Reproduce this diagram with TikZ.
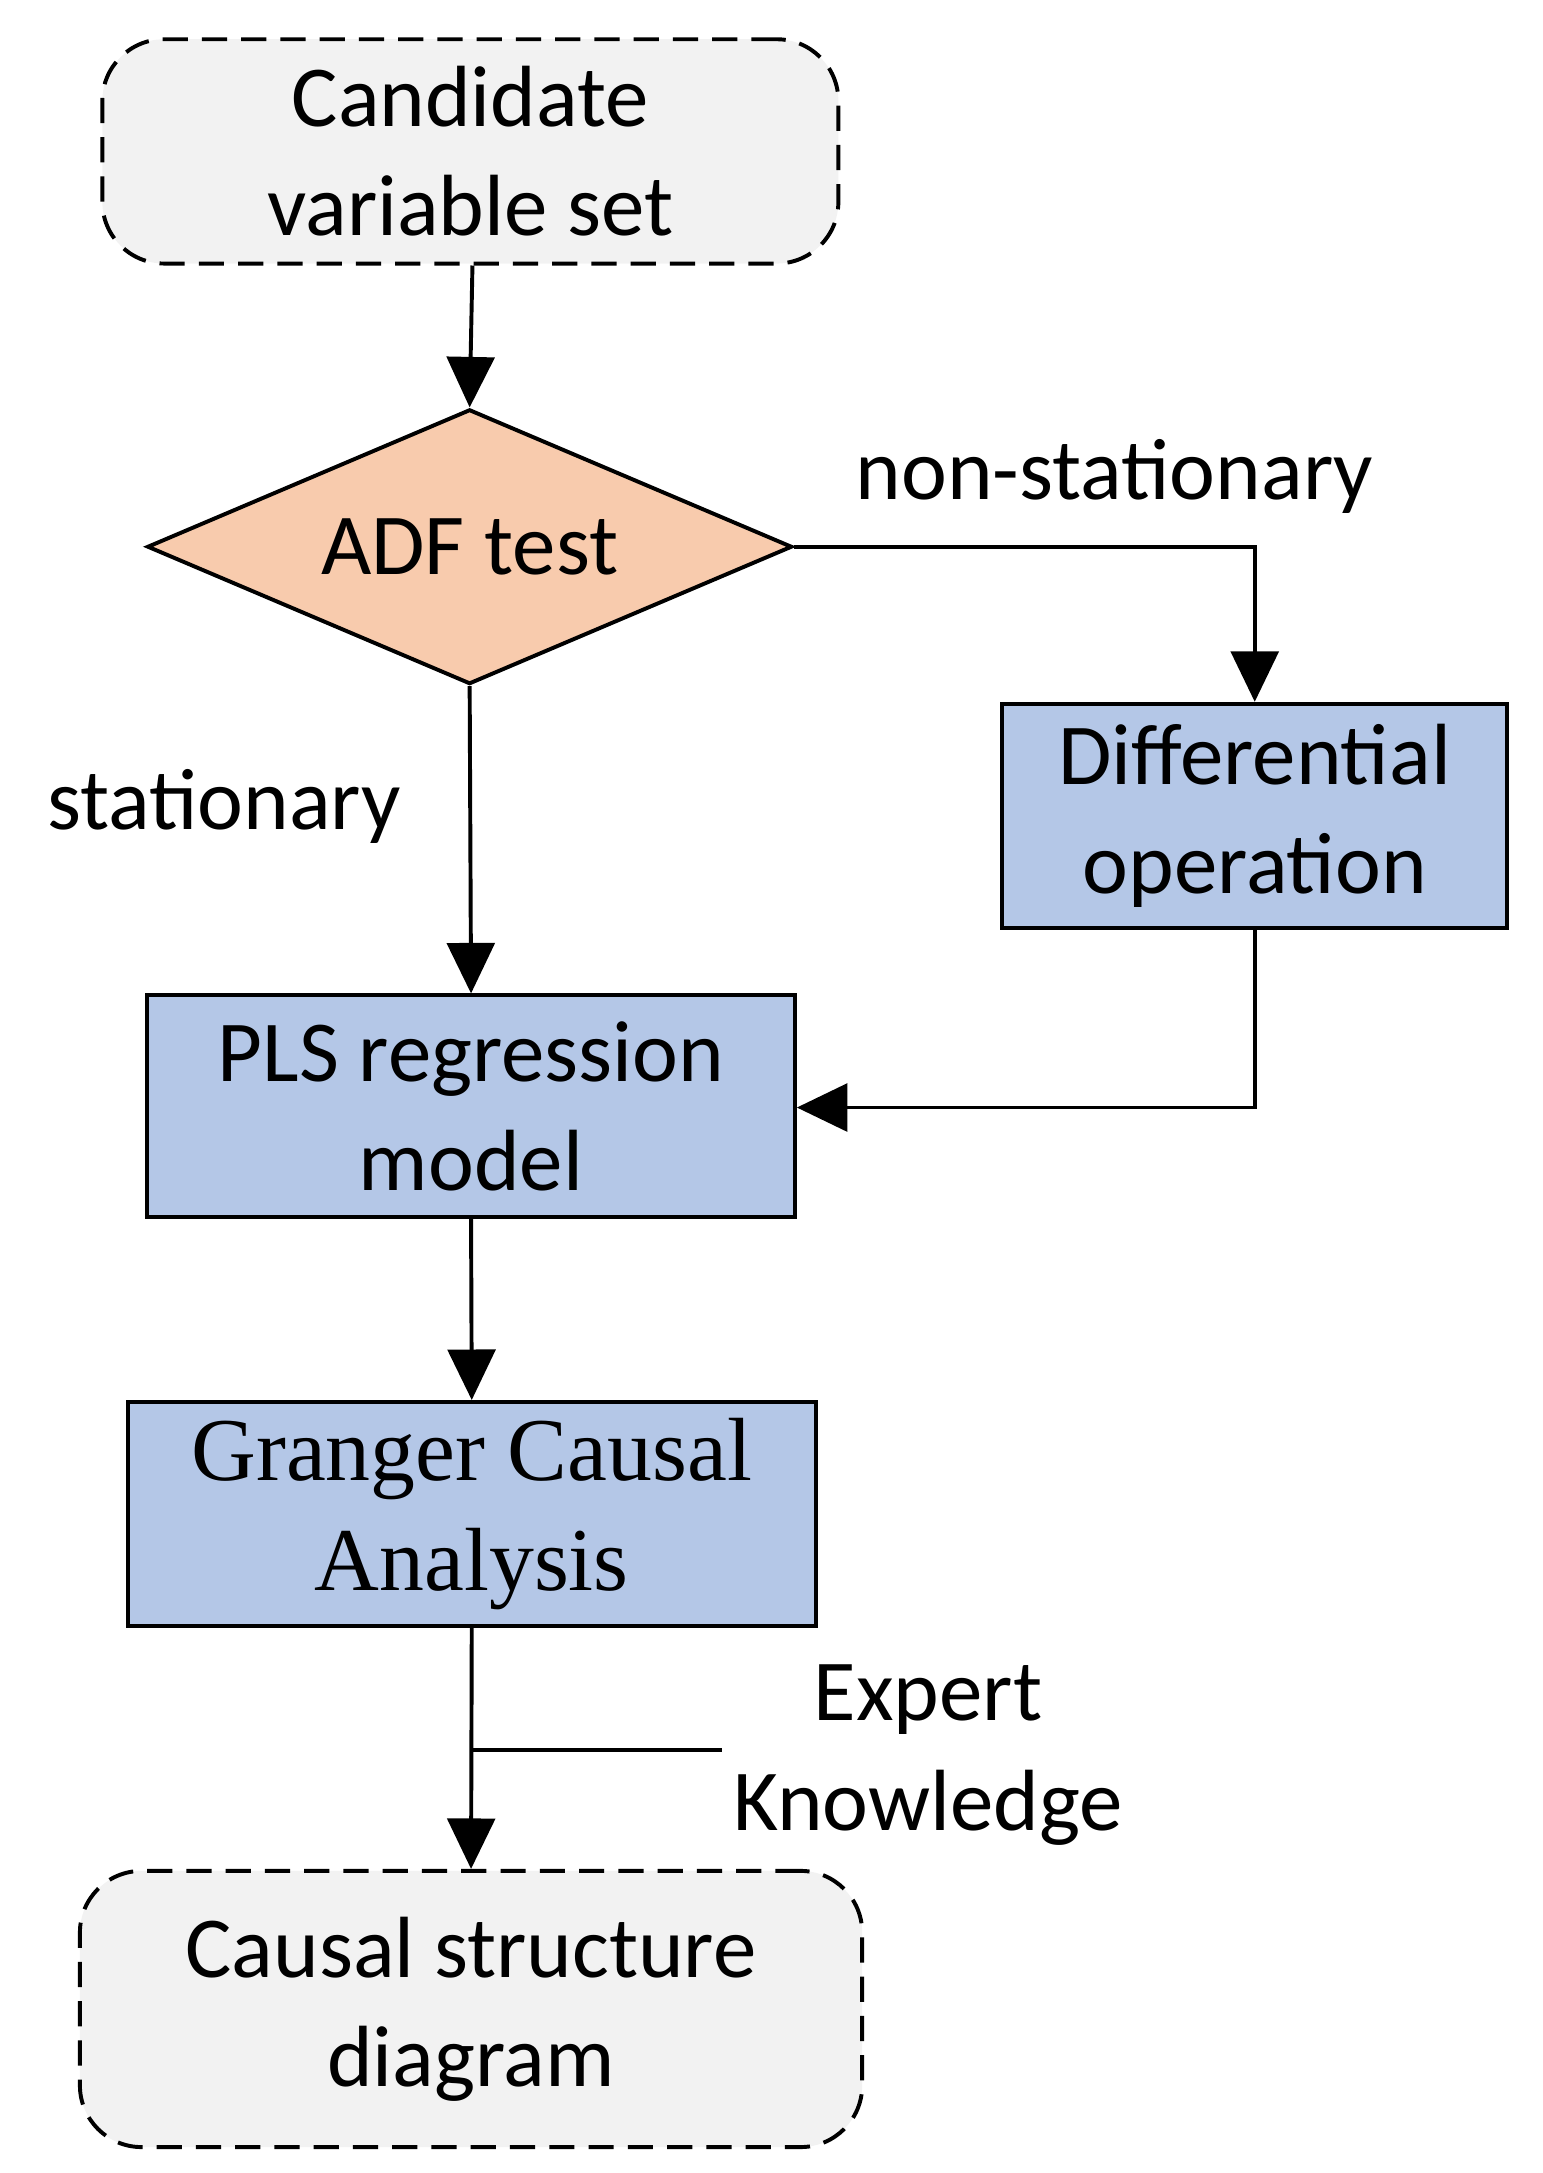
\documentclass[tikz,border=0pt]{standalone}
\usepackage{fontspec}
\setmainfont{Carlito}
\newfontfamily\tnr{Liberation Serif}
\usetikzlibrary{shapes.geometric,arrows.meta}
\definecolor{boxblue}{HTML}{B4C7E7}
\definecolor{diaorange}{HTML}{F8CBAD}
\definecolor{termgray}{HTML}{F2F2F2}
\begin{document}
\begin{tikzpicture}[x=0.5pt,y=-0.5pt,
  txt/.style={font=\fontsize{31}{39}\selectfont,align=center},
  proc/.style={draw,line width=1.4pt,fill=boxblue,inner sep=0pt},
  term/.style={draw,line width=1.4pt,dashed,dash pattern=on 9pt off 5pt,fill=termgray,rounded corners=22pt,inner sep=0pt},
  arr/.style={line width=1.4pt,-{Triangle[length=18pt,width=17pt]}},
  ln/.style={line width=1.4pt}]
\useasboundingbox (0,0) rectangle (1100,1550);
\node[term,minimum width=262.5pt,minimum height=80pt,txt] (cand) at (335.5,108) {Candidate\\variable set};
\node[diamond,aspect=2.35,draw,line width=1.4pt,fill=diaorange,inner sep=0pt,minimum width=230pt,minimum height=98pt] (adf) at (335,390) {};
\node[txt] at (335,390) {ADF test};
\node[proc,minimum width=180pt,minimum height=80pt,txt] (diff) at (895,582) {Differential\\operation};
\node[proc,minimum width=231pt,minimum height=79pt,txt] (pls) at (336,789) {PLS regression\\model};
\node[proc,minimum width=245.5pt,minimum height=80pt,font=\tnr\fontsize{32}{39}\selectfont,align=center] (gca) at (336.5,1080) {Granger Causal\\Analysis};
\node[term,minimum width=279pt,minimum height=98.5pt,txt] (cs) at (336,1433) {Causal structure\\diagram};
\node[txt] at (795,340) {non-stationary};
\node[txt] at (160,575) {stationary};
\node[txt] (ek) at (662,1252) {Expert\\Knowledge};
\draw[arr] (cand.south -| 337,0) -- (adf.north);
\draw[arr] (adf.east) -- (895,390) -- (diff.north);
\draw[arr] (adf.south) -- (pls.north);
\draw[arr] (diff.south) -- (895,790) -- (pls.east |- 0,790);
\draw[arr] (pls.south) -- (gca.north);
\draw[arr] (gca.south) -- (cs.north);
\coordinate (j) at (337,1248);
\coordinate (e) at (515,1248);
\draw[ln] (j) -- (e);
\end{tikzpicture}
\end{document}
